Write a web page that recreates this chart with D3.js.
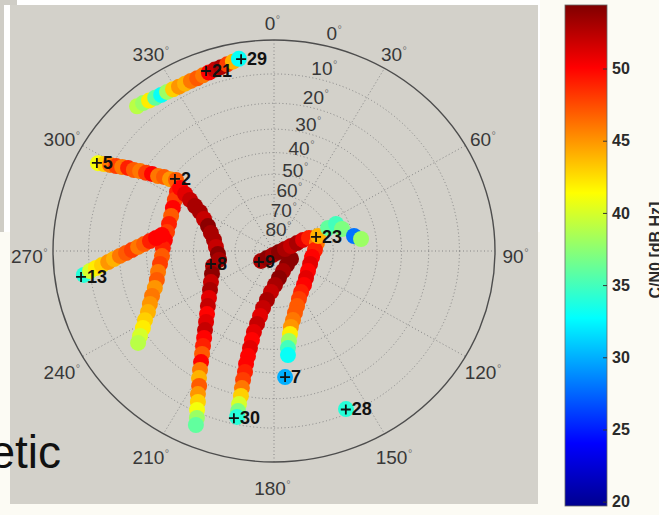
<!DOCTYPE html>
<html>
<head>
<meta charset="utf-8">
<script src="https://cdn.jsdelivr.net/npm/d3@7"></script>
<style>
  html, body { margin: 0; padding: 0; background: #fcfbf4; }
  svg { display: block; }
  text { font-family: "Liberation Sans", Arial, Helvetica, sans-serif; }
</style>
</head>
<body>
<svg id="chart" width="659" height="515"></svg>
<script>
// ---------------------------------------------------------------
// Sky plot of GNSS satellite tracks, coloured by C/N0 (dB Hz)
// ---------------------------------------------------------------

// Grid / tick values
const azimuthTicks   = [0, 30, 60, 90, 120, 150, 180, 210, 240, 270, 300, 330];
const elevationTicks = [0, 10, 20, 30, 40, 50, 60, 70, 80];
const elevationRings = [10, 20, 30, 40, 50, 60, 70, 80];
const colorTicks     = [20, 25, 30, 35, 40, 45, 50];
const colorDomain    = [19.7, 54.4];
const colorTitle     = "C/N0 [dB Hz]";

// Satellite tracks: [azimuth deg, elevation deg, C/N0 dB Hz]
const arc21 = [
  [317.9, 4.5, 39], [319.8, 4.9, 38], [321.6, 5.4, 42], [323.5, 5.8, 36],
  [325.4, 6.1, 33], [327.3, 6.3, 38], [329.2, 6.5, 43], [331.1, 6.7, 45],
  [333.1, 6.7, 44], [335.0, 6.7, 46], [337.0, 6.7, 47], [338.9, 6.5, 46]
];
const arc29 = [
  [340.8, 6.3, 50], [342.7, 6.0, 52], [344.6, 5.8, 53], [346.5, 5.4, 48],
  [348.3, 5.0, 44], [350.1, 4.5, 33]
];
const arc5 = [
  [297.6, 6.1, 41], [298.2, 7.8, 43], [298.8, 9.5, 46], [299.4, 11.3, 48],
  [300.1, 13.1, 46], [300.8, 14.9, 49], [301.2, 16.9, 47], [302.0, 18.9, 46],
  [302.6, 21.0, 48], [303.5, 23.0, 50], [304.1, 25.3, 46], [305.2, 27.3, 47],
  [305.9, 29.7, 45], [307.2, 31.8, 47]
];
const arcUnlabeled = [
  [302.5, 35.0, 49], [298.3, 36.0, 48], [294.0, 36.8, 50], [289.6, 37.4, 47],
  [285.1, 37.6, 49], [280.5, 37.6, 48], [276.0, 37.2, 50], [271.6, 36.6, 49],
  [267.3, 36.2, 47], [263.2, 35.1, 48], [259.3, 33.8, 46], [255.5, 32.6, 47],
  [252.0, 30.9, 45], [248.9, 28.8, 46], [245.9, 26.8, 45], [243.1, 24.8, 44],
  [240.7, 22.4, 43], [238.4, 20.3, 42], [236.4, 17.9, 40], [234.7, 16.0, 39]
];
const arc13 = [
  [262.5, 8.1, 34], [263.5, 10.1, 40], [264.3, 12.0, 42], [265.1, 14.0, 43],
  [266.0, 16.1, 45], [267.0, 18.1, 44], [268.1, 20.2, 46], [269.2, 22.4, 47],
  [270.4, 24.5, 48], [271.8, 26.8, 46], [273.2, 29.0, 47], [274.8, 31.2, 49],
  [276.6, 33.5, 50], [278.5, 35.7, 50]
];
const arc2 = [
  [305.1, 35.1, 50], [303.9, 38.3, 51], [302.5, 41.5, 52], [300.8, 44.8, 53],
  [298.9, 48.1, 53], [295.6, 51.3, 52], [291.6, 54.4, 54], [286.7, 56.8, 53],
  [280.9, 59.1, 53], [274.1, 60.5, 52], [266.8, 61.5, 54], [260.3, 61.7, 53]
];
const arc8 = [
  [255.6, 58.2, 53], [248.8, 56.5, 54], [242.7, 54.4, 52], [237.5, 52.1, 53],
  [232.9, 49.5, 51], [228.9, 46.7, 52], [225.4, 43.9, 50], [222.4, 41.0, 51],
  [219.8, 38.0, 52], [217.5, 35.1, 50], [215.5, 32.1, 49], [213.7, 29.2, 47],
  [212.1, 26.3, 50], [210.7, 23.5, 46], [209.4, 20.7, 44], [207.9, 18.2, 47],
  [206.9, 15.5, 45], [205.7, 13.1, 43], [204.8, 10.6, 41], [203.8, 8.3, 38],
  [203.2, 6.2, 36]
];
const arc30 = [
  [116.2, 80.2, 54], [138.5, 79.9, 54], [156.8, 78.2, 53], [170.0, 75.2, 54],
  [178.4, 71.7, 53], [184.0, 68.0, 52], [187.8, 63.6, 53], [190.4, 59.3, 52],
  [191.6, 55.1, 51], [192.5, 51.0, 52], [193.3, 46.9, 51], [193.3, 43.1, 50],
  [193.3, 39.4, 51], [193.3, 35.8, 50], [193.3, 32.4, 50], [192.9, 29.1, 49],
  [192.9, 25.8, 48], [192.6, 22.7, 46], [192.3, 19.8, 43], [192.3, 16.8, 40],
  [192.1, 14.4, 37], [192.0, 12.4, 34]
];
const arc9 = [
  [231.1, 81.4, 53], [223.7, 84.7, 54], [193.3, 87.8, 53], [101.7, 87.4, 54],
  [79.2, 84.2, 53], [72.9, 80.8, 52], [70.0, 77.4, 53], [68.3, 73.9, 51],
  [68.7, 70.7, 49]
];
const arc23 = [
  [79.0, 67.6, 46], [88.5, 69.0, 49], [99.4, 70.2, 50], [110.7, 70.2, 51],
  [121.7, 69.5, 50], [131.5, 68.1, 51], [139.9, 66.2, 50], [147.8, 64.1, 49],
  [153.6, 61.5, 48], [158.2, 58.6, 47], [162.1, 55.7, 47], [165.3, 52.6, 46],
  [168.0, 49.6, 45], [169.6, 46.4, 42], [171.0, 43.3, 38], [172.2, 40.2, 35],
  [172.7, 37.1, 33]
];
const arc23East = [
  [70.3, 66.1, 44], [66.0, 60.0, 36], [65.5, 55.7, 35], [71.3, 54.0, 37],
  [78.9, 49.5, 28], [81.8, 46.6, 38]
];
const arc7  = [[175.2, 28.1, 30]];
const arc28 = [[156.5, 11.5, 34]];

const tracks = [arc21, arc29, arc5, arcUnlabeled, arc13, arc2, arc8, arc30, arc9, arc23, arc23East, arc7, arc28];

// Latest satellite positions (PRN, azimuth, elevation)
const satPRN = ["29", "21", "5", "2", "13", "8", "9", "23", "7", "30", "28"];
const satAz  = [350.7, 340.2, 297.5, 307.3, 262.0, 257.8, 232.5, 70.7, 175.2, 192.9, 156.6];
const satEl  = [4.7, 5.6, 5.8, 31.2, 7.2, 57.5, 80.2, 67.2, 28.1, 11.8, 11.4];

// ---------------------------------------------------------------
const W = 659, H = 515;
const cx = 274, cy = 251, RX = 221, RY = 211;

const svg = d3.select("#chart");

// backdrop panels
svg.append("rect").attr("width", W).attr("height", H).attr("fill", "#fcfbf4");
svg.append("rect").attr("x", 0).attr("y", 0).attr("width", 17).attr("height", 232).attr("fill", "#cfcdc6");
svg.append("rect").attr("x", 4).attr("y", 5).attr("width", 536).attr("height", 227).attr("fill", "#ffffff");
svg.append("rect").attr("x", 17).attr("y", 0).attr("width", 523).attr("height", 5).attr("fill", "#ffffff");
svg.append("rect").attr("x", 10).attr("y", 5).attr("width", 528).attr("height", 499).attr("fill", "#d3d1ca");

// Scales: normalised plane coords -> pixels (stereographic radius, 1 = horizon)
const xs = d3.scaleLinear().domain([-1, 1]).range([cx - RX, cx + RX]);
const ys = d3.scaleLinear().domain([-1, 1]).range([cy + RY, cy - RY]);
const zenithRadius = el => Math.tan((90 - el) * Math.PI / 360);
function project(az, el, k = 1) {
  const r = zenithRadius(el) * k, a = az * Math.PI / 180;
  return [xs(r * Math.sin(a)), ys(r * Math.cos(a))];
}

// jet colour map
const jet = d3.scaleLinear()
  .domain([0, 0.125, 0.375, 0.625, 0.875, 1])
  .range(["#00008f", "#0000ff", "#00ffff", "#ffff00", "#ff0000", "#800000"])
  .clamp(true);
const cn0Norm = d3.scaleLinear().domain(colorDomain).range([0, 1]).clamp(true);
const cn0Color = v => jet(cn0Norm(v));

// ---- grid ----
const grid = svg.append("g");
grid.selectAll("ellipse.ring").data(elevationRings).join("ellipse")
  .attr("cx", cx).attr("cy", cy)
  .attr("rx", d => xs(zenithRadius(d)) - xs(0))
  .attr("ry", d => ys(0) - ys(zenithRadius(d)))
  .attr("fill", "none").attr("stroke", "#858585").attr("stroke-width", 1)
  .attr("stroke-dasharray", "1,2.5");
grid.selectAll("line.spoke").data(azimuthTicks).join("line")
  .attr("x1", cx).attr("y1", cy)
  .attr("x2", d => project(d, 0)[0]).attr("y2", d => project(d, 0)[1])
  .attr("stroke", "#858585").attr("stroke-width", 1)
  .attr("stroke-dasharray", "1,2.5");
grid.append("ellipse")
  .attr("cx", cx).attr("cy", cy).attr("rx", RX).attr("ry", RY)
  .attr("fill", "none").attr("stroke", "#4d4d4d").attr("stroke-width", 1.4);

// label with a small degree mark
function degLabel(g, px, py, txt, size, color) {
  const t = g.append("text").attr("x", px).attr("y", py)
    .attr("text-anchor", "middle").attr("dominant-baseline", "central")
    .attr("font-size", size).attr("fill", color).text(txt);
  const w = t.node().getComputedTextLength();
  g.append("text").attr("x", px + w / 2 + 0.5).attr("y", py - 0.5)
    .attr("font-size", 11).attr("fill", "#777").text("\u00b0");
}

const labels = svg.append("g");
azimuthTicks.forEach(a => {
  const [px, py] = project(a, 0, 1.1);
  degLabel(labels, px - 4, py + 5, String(a), 19, "#383838");
});
elevationTicks.forEach(e => {
  const [px, py] = project(15.2, e, 1.055);
  degLabel(labels, px - 3.4, py - 2.7, String(e), 19, "#383838");
});

// ---- satellite tracks ----
const dots = svg.append("g");
tracks.forEach(trk => {
  dots.append("g").selectAll("circle").data(trk).join("circle")
    .attr("cx", d => project(d[0], d[1])[0])
    .attr("cy", d => project(d[0], d[1])[1])
    .attr("r", 8)
    .attr("fill", d => cn0Color(d[2]));
});

// ---- satellite markers ----
const marks = svg.append("g");
satPRN.forEach((prn, i) => {
  const [px, py] = project(satAz[i], satEl[i]);
  marks.append("path")
    .attr("d", `M${px - 5},${py}H${px + 5}M${px},${py - 5}V${py + 5}`)
    .attr("stroke", "#111").attr("stroke-width", 1.8);
  marks.append("text").attr("x", px + 6).attr("y", py)
    .attr("dominant-baseline", "central")
    .attr("font-size", 18).attr("font-weight", "bold").attr("fill", "#111")
    .text(prn);
});

// ---- slide text fragment ----
svg.append("text").attr("x", 61).attr("y", 468).attr("text-anchor", "end")
  .attr("font-size", 46).attr("fill", "#111").text("etic");

// ---- colour bar ----
const cbX = 565, cbW = 42;
const cbScale = d3.scaleLinear().domain(colorDomain).range([506, 5]);
const defs = svg.append("defs");
const grad = defs.append("linearGradient").attr("id", "jetGrad")
  .attr("x1", 0).attr("y1", 1).attr("x2", 0).attr("y2", 0);
jet.domain().forEach((o, i) => {
  grad.append("stop").attr("offset", o).attr("stop-color", jet.range()[i]);
});
svg.append("rect")
  .attr("x", cbX).attr("y", cbScale(colorDomain[1]))
  .attr("width", cbW).attr("height", cbScale(colorDomain[0]) - cbScale(colorDomain[1]))
  .attr("fill", "url(#jetGrad)")
  .attr("stroke", "#666").attr("stroke-width", 0.8);

const cbAxis = d3.axisRight(cbScale).tickValues(colorTicks)
  .tickSizeInner(-4).tickSizeOuter(0).tickPadding(5);
const ax = svg.append("g").attr("transform", `translate(${cbX + cbW},0)`).call(cbAxis);
ax.select(".domain").remove();
ax.selectAll(".tick line").attr("stroke", "#333");
ax.selectAll(".tick text")
  .attr("font-size", 16).attr("font-weight", "bold").attr("fill", "#2a2a2a")
  .attr("font-family", "Liberation Sans, Arial, sans-serif");

svg.append("text")
  .attr("transform", `translate(661,250) rotate(-90)`)
  .attr("text-anchor", "middle")
  .attr("font-size", 16).attr("font-weight", "bold").attr("fill", "#2a2a2a")
  .text(colorTitle);
</script>
</body>
</html>
